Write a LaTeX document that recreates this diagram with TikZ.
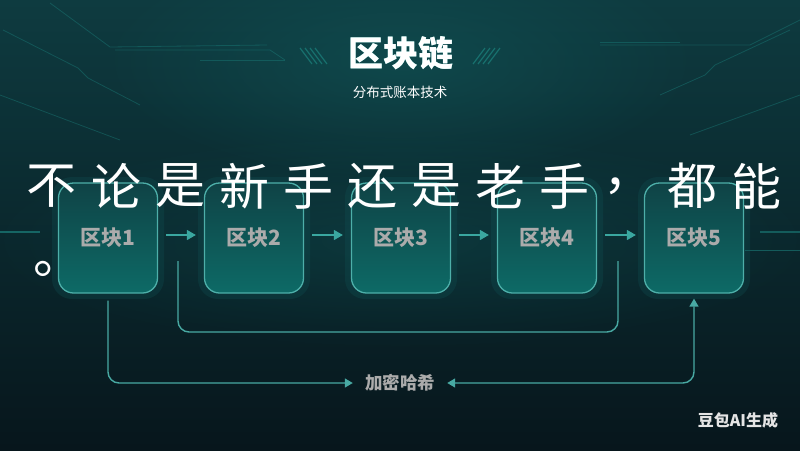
\documentclass[tikz,border=0pt]{standalone}
\usepackage{fontspec}
\setmainfont{Noto Sans CJK SC}
\usepackage{pdfrender}
\usetikzlibrary{arrows.meta,fadings,calc}
\definecolor{bgtop}{HTML}{0E3B40}
\definecolor{bgmid}{HTML}{0A2A30}
\definecolor{bgbot}{HTML}{07161C}
\definecolor{glowc}{HTML}{11585A}
\definecolor{boxtop}{HTML}{0F4346}
\definecolor{boxbot}{HTML}{0D6A66}
\definecolor{boxline}{HTML}{4DAFA9}
\definecolor{arrc}{HTML}{3AA7A0}
\definecolor{loopc}{HTML}{48A9A3}
\definecolor{lbl}{HTML}{ABABAB}
\definecolor{deco}{HTML}{1E8F89}
\definecolor{titlecy}{HTML}{8FE6DF}
\tikzfading[name=glowfade, inner color=transparent!0, outer color=transparent!100]
\newcommand{\olt}[1]{\textpdfrender{TextRenderingMode=FillStroke, LineWidth=2.2, StrokeColor=black, FillColor=white}{#1}}
\begin{document}
\begin{tikzpicture}[x=1pt,y=-1pt,
  blk/.style={draw=boxline, line width=1.3pt, rounded corners=15pt,
    top color=boxtop, bottom color=boxbot, minimum width=99pt, minimum height=110pt,
    text=lbl, font=\bfseries\fontsize{21}{21}\selectfont},
  halo/.style={fill=glowc, rounded corners=20pt, minimum width=112pt, minimum height=122pt, opacity=0.25},
  arr/.style={draw=arrc, line width=1.5pt, -{Triangle[width=10pt,length=9pt]}},
  lp/.style={draw=loopc, line width=1.4pt, rounded corners=11pt},
  ovl/.style={text=white, inner sep=0pt, font=\fontsize{50}{50}\selectfont},
  dline/.style={draw=deco, line width=0.8pt, opacity=0.35},
]
\useasboundingbox (0,0) rectangle (800,450);
% background
\shade[top color=bgtop, middle color=bgmid, bottom color=bgbot] (0,0) rectangle (800,450);
\fill[glowc, path fading=glowfade, opacity=0.55] (400,60) ellipse (300 and 120);
\fill[glowc, path fading=glowfade, opacity=0.35] (400,240) ellipse (420 and 110);
% circuit decorations
\draw[dline] (50,3) -- (110,47) -- (267,45);
\draw[dline] (3,30) -- (78,68) -- (88,78) -- (140,105);
\draw[dline] (115,50) -- (270,50) -- (285,60);
\draw[dline] (200,60) -- (285,60);
\draw[dline] (0,95) -- (120,140);
\draw[dline] (800,20) -- (750,45) -- (600,45);
\draw[dline] (600,42) -- (680,42);
\draw[dline] (790,30) -- (715,65) -- (705,75) -- (660,95);
\draw[dline] (800,95) -- (690,135);
\draw[draw=deco, line width=2pt, opacity=0.6] (0,232) -- (40,232);
\draw[draw=deco, line width=2pt, opacity=0.5] (760,232) -- (800,232);
\draw[dline, opacity=0.5] (745,250) -- (800,250);
% title stripes
\foreach \k in {0,5,10,15} {
  \draw[draw=deco, line width=1.2pt, opacity=0.6] ({300+\k},48) -- ({312+\k},64);
  \draw[draw=deco, line width=1.2pt, opacity=0.6] ({500-\k},48) -- ({488-\k},64);
}
% title
\node[text=titlecy, font=\bfseries\fontsize{35}{35}\selectfont, inner sep=0pt] (title) at (401,53) {区块链};
\begin{scope}[scope fading=south]
\node[text=white, font=\bfseries\fontsize{35}{35}\selectfont, inner sep=0pt] (titlew) at (401,53) {区块链};
\end{scope}
\node[text=white, font=\fontsize{13.5}{13.5}\selectfont, inner sep=0pt] (sub) at (400,92) {分布式账本技术};
% halos
\foreach \i/\x in {1/108,2/254,3/401,4/547,5/694} {
  \node[halo] (h\i) at (\x,238) {};
}
% blocks
\node[blk] (b1) at (108,238) {区块1};
\node[blk] (b2) at (254,238) {区块2};
\node[blk] (b3) at (401,238) {区块3};
\node[blk] (b4) at (547,238) {区块4};
\node[blk] (b5) at (694,238) {区块5};
\foreach \a/\b in {b1/b2,b2/b3,b3/b4,b4/b5} {
  \draw[arr, shorten <=8pt, shorten >=8pt] ([yshift=3pt]\a.east) -- ([yshift=3pt]\b.west);
}
% inner loop
\coordinate (ia) at (178,261);
\coordinate (ib) at (618,261);
\draw[lp] (ia) -- (ia |- 0,332) -- (ib |- 0,332) -- (ib);
% outer loop and hash label
\node[text=lbl, font=\bfseries\fontsize{17.5}{17.5}\selectfont, inner xsep=12pt, inner ysep=2pt] (hash) at (400,383) {加密哈希};
\draw[lp, -{Triangle[width=9pt,length=8pt]}] ([yshift=-7pt]b1.south) |- (hash.west);
\draw[lp, {Triangle[width=9pt,length=8pt]}-{Triangle[width=9pt,length=8pt]}] (hash.east) -| ([yshift=-5pt]b5.south);
% watermark
\node[text=white!80!gray, font=\bfseries\fontsize{16}{16}\selectfont, inner sep=0pt] (wm) at (738,420) {豆包AI生成};
% overlay caption
\foreach \c [count=\i from 0] in {不,论,是,新,手,还,是,老,手,，,都,能} {
  \node[ovl] (t\i) at ({52+64*\i},186) {\olt{\c}};
}
\node[ovl, anchor=base west] (dot) at (33,273) {\olt{。}};
\end{tikzpicture}
\end{document}
